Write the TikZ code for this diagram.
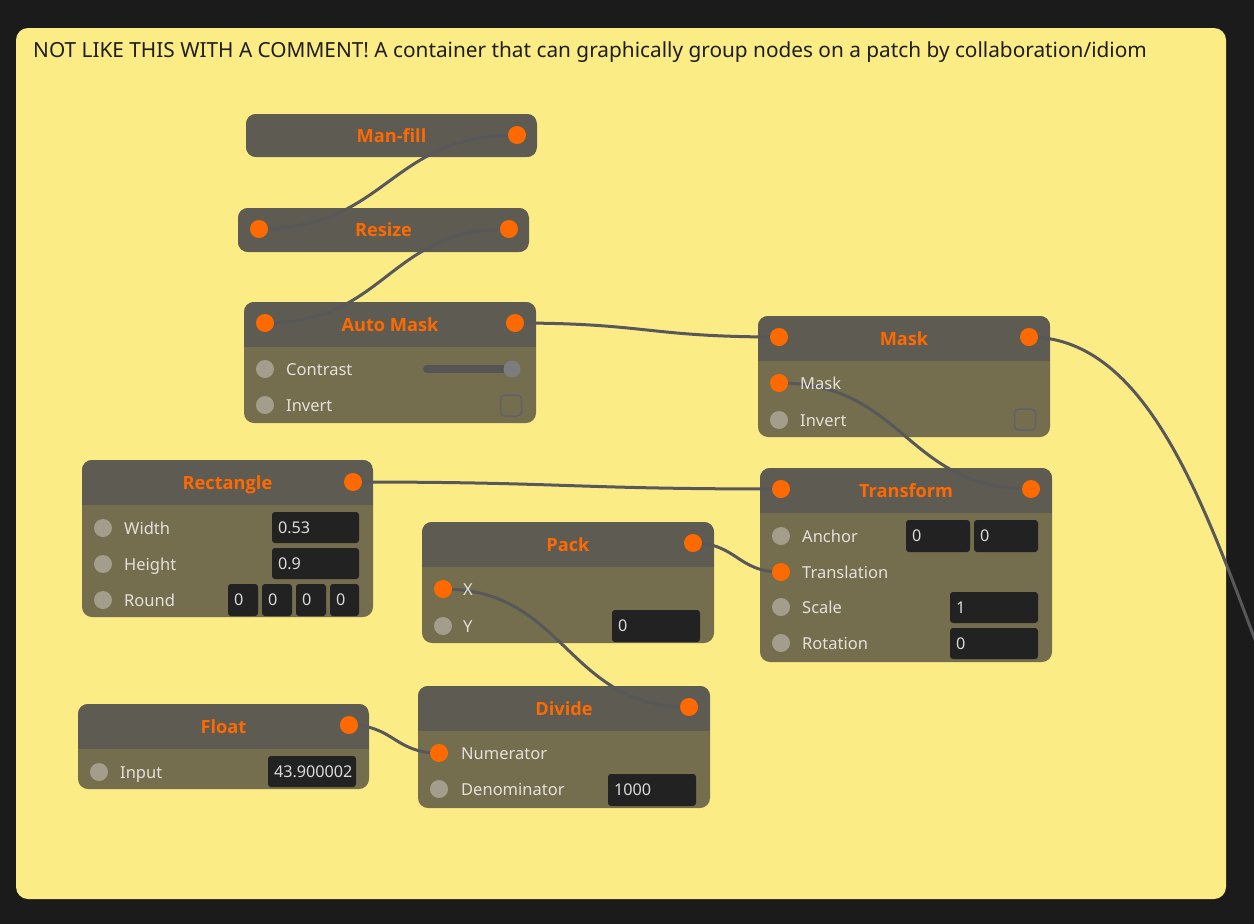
\documentclass[tikz,border=0pt]{standalone}
\usepackage{fontspec}
\setmainfont{Noto Sans}
\newfontfamily\ttlfont{Open Sans}
\usetikzlibrary{calc}
\definecolor{bgc}{HTML}{1B1B1B}
\definecolor{yel}{HTML}{FCEC85}
\definecolor{hdrc}{HTML}{5E5B52}
\definecolor{bodyc}{HTML}{746E4E}
\definecolor{orng}{HTML}{FF6A00}
\definecolor{gdot}{HTML}{A39E8C}
\definecolor{lblc}{HTML}{E4E1DA}
\definecolor{boxc}{HTML}{222222}
\definecolor{valc}{HTML}{DADADA}
\definecolor{wirec}{HTML}{58585B}
\definecolor{trackc}{HTML}{555555}
\definecolor{knobc}{HTML}{7C7C7C}
\definecolor{chkc}{HTML}{606267}
\definecolor{ttlc}{HTML}{1E1E1E}
\pgfdeclarelayer{bodies}
\pgfdeclarelayer{dots}
\pgfsetlayers{bodies,main,dots}
\tikzset{
  nodebody/.style={rectangle, rounded corners=10pt, fill=bodyc, inner sep=0pt},
  nodetitle/.style={anchor=base, text=orng, font=\ttlfont\fontsize{18.2pt}{21pt}\selectfont\bfseries, inner sep=0pt},
  lbl/.style={anchor=base west, text=lblc, font=\fontsize{16.5pt}{19pt}\selectfont, inner sep=0pt},
  port/.style={circle, minimum size=18pt, inner sep=0pt},
  valbox/.style={rectangle, rounded corners=3pt, fill=boxc, text=valc, align=left, inner xsep=6pt, inner ysep=0pt, font=\fontsize{16.2pt}{19pt}\selectfont},
  chk/.style={rectangle, rounded corners=4pt, draw=chkc, line width=1.5pt, minimum size=21pt, inner sep=0pt},
  wire/.style={draw=wirec, line width=3pt,
    to path={let \p1=(\tikztostart), \p2=(\tikztotarget) in
      .. controls ({0.5*\x1+0.5*\x2},\y1) and ({0.5*\x1+0.5*\x2},\y2) .. (\tikztotarget)}}
}
% name, x1, y1, x2, y2, header bottom, title
\newcommand{\gnode}[7]{%
  \node[nodebody, minimum width={(#4-#2)*1pt}, minimum height={(#5-#3)*1pt}] (#1) at ({(#2+#4)/2},{(#3+#5)/2}) {};
  \begin{scope}
    \clip[rounded corners=10pt] (#2,#3) rectangle (#4,#5);
    \fill[hdrc] (#2,#3) rectangle (#4,#6);
  \end{scope}
  \node[nodetitle] (#1-title) at ({(#2+#4)/2},{(#3+#6)/2+6.8}) {#7};
}
% name, x, y, colour
\newcommand{\gport}[4]{\node[port, fill=#4] (#1) at (#2,#3) {};}
% name, x, rowy, text
\newcommand{\glbl}[4]{\node[lbl] (#1) at (#2,{#3+6}) {#4};}
% name, x1, y1, x2, y2, text
\newcommand{\gval}[6]{\node[valbox, minimum width={(#4-#2)*1pt}, minimum height={(#5-#3)*1pt}, text width={(#4-#2-12)*1pt}] (#1) at ({(#2+#4)/2},{(#3+#5)/2}) {#6};}
\begin{document}
\begin{tikzpicture}[x=1pt, y=-1pt]
\useasboundingbox (0,0) rectangle (1254,924);
\begin{pgfonlayer}{bodies}
\fill[bgc] (0,0) rectangle (1254,924);
\node[rectangle, rounded corners=12pt, fill=yel, minimum width=1210pt, minimum height=871pt, inner sep=0pt] (group) at (621,463.5) {};
\node[anchor=base west, text=ttlc, font=\fontsize{20.8pt}{24pt}\selectfont, inner sep=0pt] (grouptitle) at (33,57) {NOT LIKE THIS WITH A COMMENT! A container that can graphically group nodes on a patch by collaboration/idiom};
% Man-fill
\gnode{manfill}{246}{114}{537}{157}{157}{Man-fill}
% Resize
\gnode{resize}{238}{208}{529}{252}{252}{Resize}
% Auto Mask
\gnode{automask}{244}{302}{536}{423}{347}{Auto Mask}
\draw[trackc, line width=8pt, line cap=round] (427,369) -- (510,369);
\node[circle, fill=knobc, minimum size=17pt, inner sep=0pt] (am-knob) at (512,369) {};
\node[chk] (am-chk) at (511,405.5) {};
% Mask
\gnode{mask}{758}{316}{1050}{437}{361}{Mask}
\node[chk] (mk-chk) at (1025,419.5) {};
% Transform
\gnode{transform}{760}{468}{1052}{662}{513}{Transform}
\gval{tf-ax}{906}{520}{970}{552}{0}
\gval{tf-ay}{974}{520}{1038}{552}{0}
\gval{tf-sv}{950}{592}{1038}{623}{1}
\gval{tf-rv}{950}{628}{1038}{659}{0}
% Rectangle
\gnode{rect}{82}{460}{373}{617}{505}{Rectangle}
\gval{rc-wv}{272}{512}{359}{543}{0.53}
\gval{rc-hv}{272}{548}{359}{579}{0.9}
\gval{rc-r1}{228}{584}{258}{616}{0}
\gval{rc-r2}{262}{584}{292}{616}{0}
\gval{rc-r3}{296}{584}{326}{616}{0}
\gval{rc-r4}{330}{584}{359}{616}{0}
% Pack
\gnode{pack}{422}{522}{714}{643}{567}{Pack}
\gval{pk-yv}{612}{610}{700}{642}{0}
% Divide
\gnode{divide}{418}{686}{710}{808}{731}{Divide}
\gval{dv-dv}{608}{774}{696}{806}{1000}
% Float
\gnode{float}{78}{704}{369}{789}{749}{Float}
\gval{fl-iv}{268}{756}{356}{787}{43.900002}
\end{pgfonlayer}
\begin{pgfonlayer}{dots}
% row labels
\glbl{am-contrast}{286}{369}{Contrast}
\glbl{am-invert}{286}{405}{Invert}
\glbl{mk-mask}{800}{383}{Mask}
\glbl{mk-invert}{800}{420}{Invert}
\glbl{tf-anchor}{802}{536}{Anchor}
\glbl{tf-transl}{802}{572}{Translation}
\glbl{tf-scale}{802}{607}{Scale}
\glbl{tf-rot}{802}{643}{Rotation}
\glbl{rc-width}{124}{528}{Width}
\glbl{rc-height}{124}{564}{Height}
\glbl{rc-round}{124}{600}{Round}
\glbl{pk-x}{463}{589}{X}
\glbl{pk-y}{463}{626}{Y}
\glbl{dv-num}{461}{753}{Numerator}
\glbl{dv-den}{461}{789}{Denominator}
\glbl{fl-input}{120}{772}{Input}
% ports
\gport{manfill-out}{517}{135}{orng}
\gport{resize-in}{259}{229}{orng}
\gport{resize-out}{509}{229}{orng}
\gport{automask-in}{265}{323}{orng}
\gport{automask-out}{515}{323}{orng}
\gport{automask-contrast}{265}{369}{gdot}
\gport{automask-invert}{265}{405}{gdot}
\gport{mask-in}{779}{337}{orng}
\gport{mask-out}{1029}{337}{orng}
\gport{mask-mask}{779}{383}{orng}
\gport{mask-invert}{779}{420}{gdot}
\gport{transform-in}{781}{489}{orng}
\gport{transform-out}{1031}{489}{orng}
\gport{transform-anchor}{781}{536}{gdot}
\gport{transform-transl}{781}{572}{orng}
\gport{transform-scale}{781}{607}{gdot}
\gport{transform-rot}{781}{643}{gdot}
\gport{rect-out}{353}{482}{orng}
\gport{rect-width}{103}{528}{gdot}
\gport{rect-height}{103}{564}{gdot}
\gport{rect-round}{103}{600}{gdot}
\gport{pack-out}{693}{543}{orng}
\gport{pack-x}{443}{589}{orng}
\gport{pack-y}{443}{626}{gdot}
\gport{divide-out}{689}{707}{orng}
\gport{divide-num}{439}{753}{orng}
\gport{divide-den}{439}{789}{gdot}
\gport{float-out}{349}{725}{orng}
\gport{float-input}{99}{772}{gdot}
\end{pgfonlayer}
\coordinate (offpage) at (1480,940);
\begin{scope}
\clip (0,0) rectangle (1254,924);
\draw[wire] (manfill-out.center) to (resize-in.center);
\draw[wire] (resize-out.center) to (automask-in.center);
\draw[wire] (automask-out.center) to (mask-in.center);
\draw[wire] (mask-mask.center) to (transform-out.center);
\draw[wire] (rect-out.center) to (transform-in.center);
\draw[wire] (pack-out.center) to (transform-transl.center);
\draw[wire] (pack-x.center) to (divide-out.center);
\draw[wire] (float-out.center) to (divide-num.center);
\draw[wire] (mask-out.center) to (offpage);
\end{scope}
\end{tikzpicture}
\end{document}
